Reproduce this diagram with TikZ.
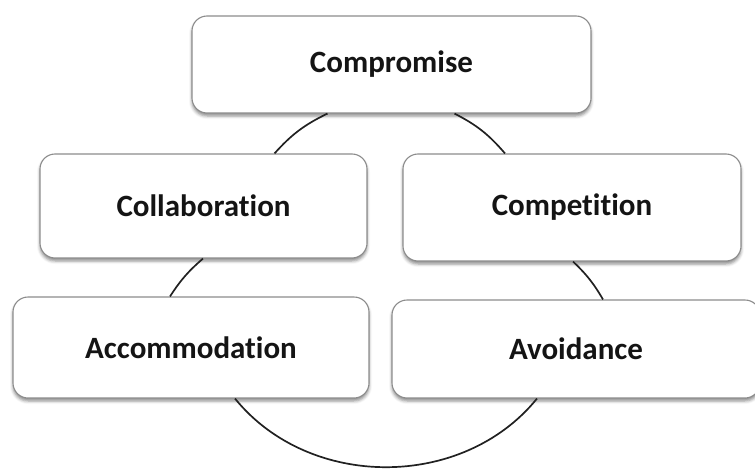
\documentclass[tikz,border=0pt]{standalone}
\usepackage{fontspec}
\setmainfont{Carlito}[Ligatures={NoCommon}]
\usepackage{tikz}
\usetikzlibrary{calc, shadows.blur}
\definecolor{modeedge}{rgb}{0.55, 0.55, 0.55}
\definecolor{modetext}{rgb}{0.08, 0.08, 0.08}
\definecolor{arcink}{rgb}{0.13, 0.13, 0.13}

\begin{document}
\begin{tikzpicture}
			[x=1pt, y=-1pt,
			mode/.style={draw=modeedge, line width=1.1pt, rounded corners=15pt, fill=white,
				text=modetext, font=\bfseries\fontsize{31}{36}\selectfont, inner sep=0pt,
				blur shadow={shadow xshift=0pt, shadow yshift=-3pt, shadow blur radius=3pt, shadow opacity=45}},
			arcline/.style={draw=arcink, line width=1.7pt}]
			\useasboundingbox (0,0) rectangle (755,471);

			\node[mode, minimum width=399pt, minimum height=97pt] (compromise) at (391.5,64.5) {Compromise};
			\node[mode, minimum width=327pt, minimum height=104pt] (collaboration) at (203.5,206) {Collaboration};
			\node[mode, minimum width=338pt, minimum height=107pt] (competition) at (572,207.5) {Competition};
			\node[mode, minimum width=356pt, minimum height=101pt] (accommodation) at (191,347.5) {Accommodation};
			\node[mode, minimum width=368pt, minimum height=98pt] (avoidance) at (576,349) {Avoidance};

			% pieces of the ring between the boxes
			\draw[arcline] ([xshift=-64pt]compromise.south) to[bend right=11] ([xshift=71pt]collaboration.north);
			\draw[arcline] ([xshift=63pt]compromise.south) to[bend left=11] ([xshift=-67pt]competition.north);
			\draw[arcline] ([xshift=-0.5pt]collaboration.south) to[bend right=8] ([xshift=-21pt]accommodation.north);
			\draw[arcline] ([xshift=1pt]competition.south) to[bend left=8] ([xshift=27pt]avoidance.north);
			\draw[arcline] ([xshift=44pt]accommodation.south) to[bend right=51] ([xshift=-39pt]avoidance.south);
		\end{tikzpicture}
\end{document}
